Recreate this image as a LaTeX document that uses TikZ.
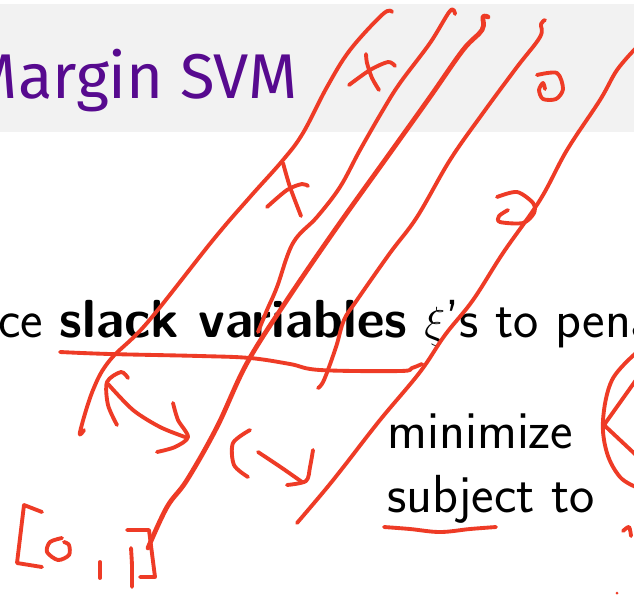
\documentclass[tikz,border=0pt]{standalone}
\usepackage{fontspec}
\newfontfamily\titlefont{Fira Sans}
\definecolor{slideGray}{HTML}{F2F2F2}
\definecolor{titlePurple}{HTML}{570A8F}
\definecolor{penRed}{HTML}{EE3B26}
\tikzset{
    ink/.style={draw=penRed,line width=2.2pt,line cap=round,line join=round},
    thickink/.style={ink,line width=2.7pt},
    titletext/.style={inner sep=0pt,text=titlePurple,font=\titlefont\fontsize{36}{44}\selectfont},
    bodytext/.style={inner sep=0pt,text=black,font=\sffamily\fontsize{30.5}{36}\selectfont}
}
\begin{document}
\begin{tikzpicture}[x=0.02cm,y=-0.02cm]
    \useasboundingbox (0,0) rectangle (634,596);
    \fill[white] (0,0) rectangle (634,596);
    \fill[slideGray] (0,4) rectangle (634,132);
    % slide text
    \node[titletext,anchor=base east] (title) at (298,98) {Margin SVM};
    \node[bodytext,anchor=base west] (slack) at (-2,337) {ce \textbf{slack variables} $\xi$'s to pena};
    \node[bodytext,anchor=base west] (minimize) at (387,448) {minimize};
    \node[bodytext,anchor=base west] (subject) at (387,512) {subject to};
    % margin lines
    \draw[ink] plot[smooth,tension=0.6] coordinates {(392,12) (383,14) (350,50) (327,87) (303,133) (283,160) (250,197) (213,240) (147,323) (110,360) (93,390) (80,432) (84,430)};
    \draw[ink] plot[smooth,tension=0.6] coordinates {(455,14) (450,11) (430,43) (400,83) (383,110) (360,150) (340,187) (317,217) (293,243) (277,287) (267,310) (258,332)};
    \draw[thickink] plot[smooth,tension=0.6] coordinates {(488,17) (483,17) (482,30) (463,50) (430,97) (390,153) (337,227) (287,300) (247,363) (217,427) (187,480) (167,507) (148,548)};
    \draw[ink] plot[smooth,tension=0.6] coordinates {(545,20) (541,24) (540,37) (517,67) (483,113) (450,160) (417,217) (390,253) (357,300) (344,320) (336,347) (324,380) (318,388)};
    \draw[ink] plot[smooth,tension=0.6] coordinates {(636,48) (617,70) (600,100) (567,150) (540,200) (503,253) (473,300) (445,335) (420,372) (380,420) (345,465) (325,490) (297,523)};
    % width line
    \draw[ink] plot[smooth,tension=0.6] coordinates {(60,352) (110,354) (200,356) (250,358) (290,364) (320,370) (400,371) (412,368) (422,364)};
    % crosses
    \draw[ink] plot[smooth] coordinates {(366,54) (367,63) (372,78) (379,90)};
    \draw[ink] plot[smooth] coordinates {(349,85) (370,70) (388,62) (395,66)};
    \draw[ink] plot[smooth] coordinates {(283,163) (290,187) (301,216)};
    \draw[ink] plot[smooth] coordinates {(267,207) (287,190) (302,184) (308,186)};
    % circles
    \draw[ink] plot[smooth] coordinates {(545,89) (543,83) (539,90) (543,99) (556,99) (563,89) (557,73) (537,75)};
    \draw[ink] plot[smooth] coordinates {(497,197) (517,192) (533,203) (534,213) (523,223) (500,222) (499,216) (508,210)};
    % arrows
    \draw[ink] plot[smooth] coordinates {(108,384) (133,410) (160,427) (185,437)};
    \draw[ink] plot[smooth] coordinates {(128,378) (121,372) (107,382) (108,405) (117,425)};
    \draw[ink] plot[smooth] coordinates {(173,403) (178,420) (188,437) (175,447) (157,452)};
    \draw[ink] plot[smooth] coordinates {(250,430) (233,443) (234,465) (248,477)};
    \draw[ink] plot[smooth] coordinates {(258,452) (282,468) (302,482)};
    \draw[ink] plot[smooth] coordinates {(313,450) (310,467) (306,481) (287,485)};
    % interval
    \draw[ink] (42,512) -- (24,505) -- (17,563) -- (42,567);
    \draw[ink] plot[smooth] coordinates {(62,538) (50,542) (47,552) (58,560) (69,555) (69,545) (64,542)};
    \draw[ink] (100,562) -- (100,578);
    \draw[ink] plot[smooth] coordinates {(131,548) (132,566) (132,587)};
    \draw[ink] (127,530) -- (149,530) -- (155,577) -- (140,577);
    % right edge
    \draw[ink] plot[smooth,tension=0.6] coordinates {(636,353) (612,380) (603,420) (607,453) (620,477) (636,487)};
    \draw[ink] (636,380) -- (604,425) -- (636,455);
    \draw[ink] plot[smooth] coordinates {(623,531) (629,527) (631,536)};
    \fill[penRed] (617,593) circle (1.5);
    % underline
    \draw[ink] plot[smooth,tension=0.6] coordinates {(384,527) (410,529) (440,532) (470,529) (496,527)};
\end{tikzpicture}
\end{document}
